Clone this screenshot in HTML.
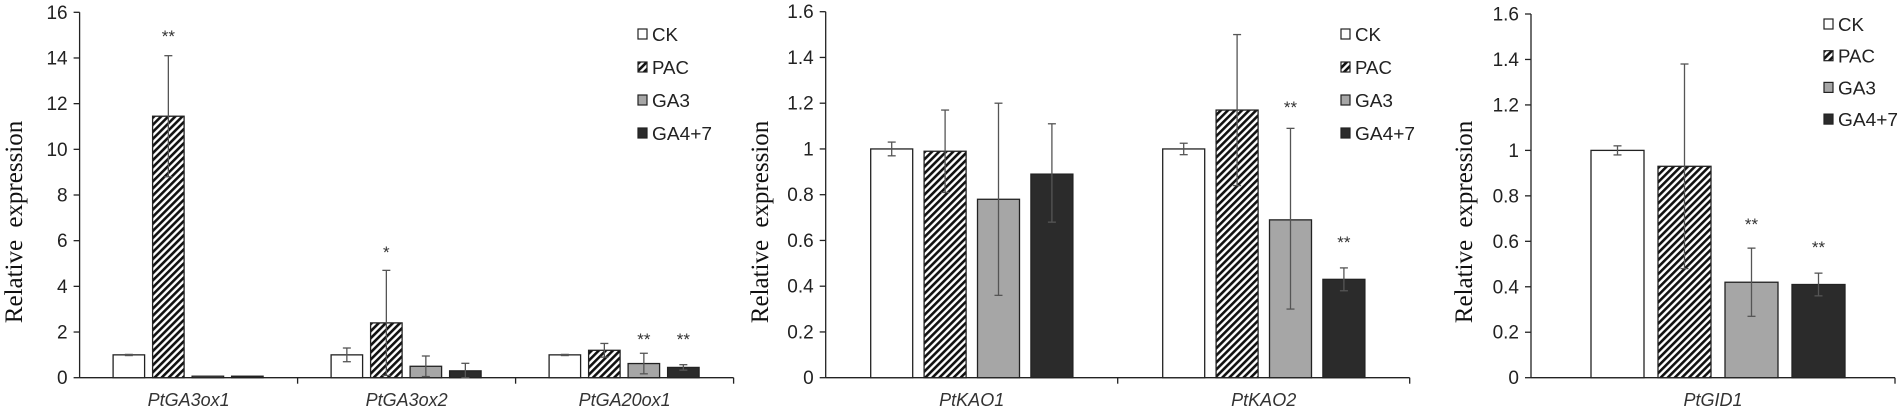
<!DOCTYPE html>
<html><head><meta charset="utf-8"><style>
html,body{margin:0;padding:0;background:#fff;width:1900px;height:411px;overflow:hidden}
svg text{font-family:"Liberation Sans Narrow","Liberation Sans",sans-serif}
</style></head><body>
<svg id="s" width="1900" height="411" xmlns="http://www.w3.org/2000/svg">
<defs>
<pattern id="h" patternUnits="userSpaceOnUse" width="5" height="5" patternTransform="rotate(45)">
<rect width="5" height="5" fill="#fff"/><rect width="2.6" height="5" fill="#111"/>
</pattern>
</defs>
</svg>
<script>
const S=document.getElementById('s');let o='';
const fills=['#fff','url(#h)','#a6a6a6','#2b2b2b'];
const names=['CK','PAC','GA3','GA4+7'];
const lw=[26,37,38,60];
function chart(c){
 const y0=377.7,sc=(y0-c.yt)/c.max, Y=v=>y0-v*sc;
 o+=`<text transform="translate(${c.tx},222) rotate(-90)" text-anchor="middle" style="font-family:'Liberation Serif',serif;font-size:25px;word-spacing:6px" fill="#111">Relative expression</text>`;
 o+=`<line x1="${c.ax}" y1="${c.yt}" x2="${c.ax}" y2="${y0}" stroke="#222" stroke-width="1.3"/>`;
 o+=`<line x1="${c.ax}" y1="${y0}" x2="${c.ax+c.cw*c.cats.length}" y2="${y0}" stroke="#222" stroke-width="1.3"/>`;
 for(let i=0;i<=c.max/c.st+0.001;i++){const v=i*c.st,y=Y(v);
  o+=`<line x1="${c.ax-6}" y1="${y}" x2="${c.ax}" y2="${y}" stroke="#222" stroke-width="1.3"/>`;
  let t=c.dec?(+v.toFixed(1)).toString():v.toString();
  o+=`<text x="${c.ax-12}" y="${y+6.5}" text-anchor="end" font-size="19" fill="#222">${t}</text>`;}
 for(let k=1;k<=c.cats.length;k++){const x=c.ax+k*c.cw;o+=`<line x1="${x}" y1="${y0}" x2="${x}" y2="${y0+6}" stroke="#222" stroke-width="1.3"/>`;}
 c.cats.forEach((cat,k)=>{const gx=c.ax+k*c.cw;
  o+=`<text x="${gx+c.cw/2}" y="406" text-anchor="middle" font-size="18" font-style="italic" fill="#333">${cat.n}</text>`;
  cat.d.forEach((d,j)=>{const x=gx+c.off+j*c.p;const h=Math.max(y0-Y(d[0]),1.5);
   o+=`<rect x="${x}" y="${y0-h}" width="${c.bw}" height="${h}" fill="${fills[j]}" stroke="#222" stroke-width="1.3"/>`;
   if(d[1]!=null){const cx=x+c.bw/2;
    o+=`<g stroke="#555" stroke-width="1.3"><line x1="${cx}" y1="${Y(d[1])}" x2="${cx}" y2="${Y(d[2])}"/><line x1="${cx-4}" y1="${Y(d[1])}" x2="${cx+4}" y2="${Y(d[1])}"/><line x1="${cx-4}" y1="${Y(d[2])}" x2="${cx+4}" y2="${Y(d[2])}"/></g>`;}
   if(d[3])o+=`<text x="${x+c.bw/2}" y="${d[4]}" text-anchor="middle" font-size="17" fill="#333">${d[3]}</text>`;
  });});
 names.forEach((n,j)=>{const y=c.ly+j*c.ld;
  o+=`<rect x="${c.lx}" y="${y-5}" width="9" height="10" fill="${j==1?'url(#h)':fills[j]}" stroke="#222" stroke-width="1.2"/>`;
  o+=`<text x="${c.lx+14}" y="${y+7}" font-size="18" textLength="${lw[j]}" lengthAdjust="spacingAndGlyphs" fill="#222">${n}</text>`;});
}
chart({ax:79.6,yt:12.3,max:16,st:2,dec:0,cw:218,off:33.5,bw:31.5,p:39.5,tx:22,lx:638,ly:34,ld:33,
 cats:[{n:'PtGA3ox1',d:[[1,1.02,0.97],[11.45,14.1,8.8,'**',42],[0.05],[0.05]]},
 {n:'PtGA3ox2',d:[[1,1.3,0.7],[2.4,4.7,0.1,'*',258],[0.5,0.95,0.05],[0.3,0.63,0]]},
 {n:'PtGA20ox1',d:[[1,1.02,0.97],[1.2,1.5,0.9],[0.62,1.07,0.17,'**',345],[0.45,0.57,0.33,'**',345]]}]});
chart({ax:825.7,yt:11.7,max:1.6,st:0.2,dec:1,cw:292,off:45,bw:42,p:53.4,tx:768,lx:1341,ly:34,ld:33,
 cats:[{n:'PtKAO1',d:[[1,1.03,0.97],[0.99,1.17,0.81],[0.78,1.2,0.36],[0.89,1.11,0.68]]},
 {n:'PtKAO2',d:[[1,1.025,0.975],[1.17,1.5,0.84],[0.69,1.09,0.3,'**',113],[0.43,0.48,0.38,'**',248]]}]});
chart({ax:1531,yt:14,max:1.6,st:0.2,dec:1,cw:364,off:60,bw:53,p:67,tx:1472,lx:1824,ly:24,ld:31.7,
 cats:[{n:'PtGID1',d:[[1,1.02,0.98],[0.93,1.38,0.48],[0.42,0.57,0.27,'**',230],[0.41,0.46,0.36,'**',253]]}]});
S.insertAdjacentHTML('beforeend',o);
</script>
</body></html>
